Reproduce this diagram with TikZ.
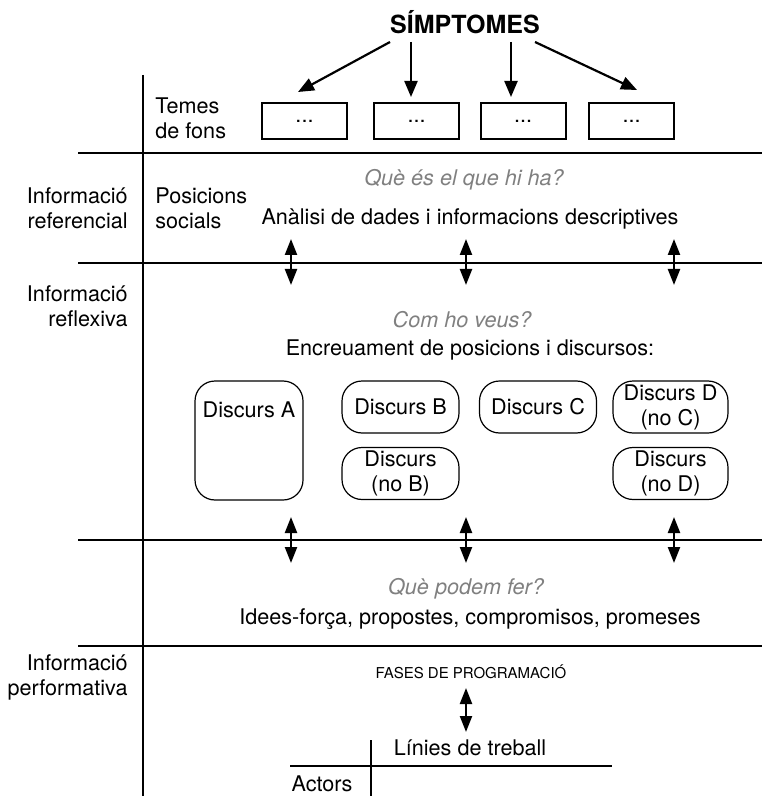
\documentclass[tikz,border=0pt]{standalone}
\usepackage{fontspec}
\setmainfont{TeX Gyre Heros}
\usetikzlibrary{arrows.meta,positioning}

\begin{document}
\begin{tikzpicture}[x=0.5pt,y=-0.5pt,
    every node/.style={font=\fontsize{10.8}{12.5}\selectfont},
    rule/.style={line width=0.7pt},
    sym/.style={-{Triangle[length=8pt,width=6.5pt]},line width=1.1pt},
    dbl/.style={{Triangle[length=8pt,width=6pt]}-{Triangle[length=8pt,width=6pt]},line width=1.1pt},
    tema/.style={draw,line width=1pt,minimum width=42.5pt,minimum height=18pt},
    discurs/.style={draw,rounded corners=10pt,line width=0.6pt,minimum width=58.5pt,minimum height=26pt,align=center,inner sep=1pt},
    pregunta/.style={font=\fontsize{10.8}{12}\selectfont\itshape,text=gray},
    seccio/.style={align=right,anchor=east,inner sep=0pt}]
    \useasboundingbox (0,0) rectangle (762,796);

    % grid of the table
    \draw[rule] (143,75) -- (143,796);
    \draw[rule] (78,153) -- (762,153);
    \draw[rule] (78,263) -- (762,263);
    \draw[rule] (78,540) -- (762,540);
    \draw[rule] (78,646) -- (762,646);

    % symptoms
    \node[font=\fontsize{12.5}{15}\selectfont\bfseries] (simp) at (465,22) {SÍMPTOMES};
    \node[anchor=west,align=left,inner sep=0pt] (temes) at (155,118) {Temes\\de fons};
    \node[tema] (t1) at (304.5,121) {\raisebox{-2pt}{...}};
    \node[tema] (t2) at (416.5,121) {\raisebox{-2pt}{...}};
    \node[tema] (t3) at (523,121) {\raisebox{-2pt}{...}};
    \node[tema] (t4) at (631.5,121) {\raisebox{-2pt}{...}};
    \coordinate (s1) at (390,42); \coordinate (e1) at (298,92);
    \coordinate (s2) at (411,42); \coordinate (e2) at (411,97);
    \coordinate (s3) at (511,42); \coordinate (e3) at (511,97);
    \coordinate (s4) at (535,42); \coordinate (e4) at (637,90);
    \draw[sym] (s1) -- (e1);
    \draw[sym] (s2) -- (e2);
    \draw[sym] (s3) -- (e3);
    \draw[sym] (s4) -- (e4);

    % referencial
    \node[seccio] (ref) at (128,208) {Informació\\referencial};
    \node[anchor=west,align=left,inner sep=0pt] (pos) at (155,208) {Posicions\\socials};
    \node[pregunta] (q1) at (464,180) {Què és el que hi ha?};
    \node (anal) at (470,219) {Anàlisi de dades i informacions descriptives};
    \coordinate (a1) at (291,239); \coordinate (b1) at (291,285);
    \coordinate (a2) at (466,239); \coordinate (b2) at (466,285);
    \coordinate (a3) at (674,239); \coordinate (b3) at (674,285);
    \draw[dbl] (a1) -- (b1);
    \draw[dbl] (a2) -- (b2);
    \draw[dbl] (a3) -- (b3);

    % reflexiva
    \node[seccio] (refl) at (128,306) {Informació\\reflexiva};
    \node[pregunta] (q2) at (462,320) {Com ho veus?};
    \node (encr) at (470,350) {Encreuament de posicions i discursos:};
    \node[discurs,minimum width=54pt,minimum height=59.5pt,
        label={[anchor=north,yshift=-7pt]north:Discurs A}] (dA) at (249,440.5) {};
    \node[discurs] (dB) at (400.5,407) {Discurs B};
    \node[discurs] (dnB) at (400.5,473.5) {Discurs\\(no B)};
    \node[discurs] (dC) at (538,407) {Discurs C};
    \node[discurs,minimum width=57.5pt] (dD) at (670.5,407) {Discurs D\\(no C)};
    \node[discurs,minimum width=57.5pt] (dnD) at (670.5,473.5) {Discurs\\(no D)};
    \coordinate (c1) at (291,517); \coordinate (d1) at (291,563);
    \coordinate (c2) at (466,517); \coordinate (d2) at (466,563);
    \coordinate (c3) at (674,517); \coordinate (d3) at (674,563);
    \draw[dbl] (c1) -- (d1);
    \draw[dbl] (c2) -- (d2);
    \draw[dbl] (c3) -- (d3);

    \node[pregunta] (q3) at (466,589) {Què podem fer?};
    \node (idees) at (470,619) {Idees-força, propostes, compromisos, promeses};

    % performativa
    \node[seccio] (perf) at (128,677) {Informació\\performativa};
    \node[font=\fontsize{7.5}{9}\selectfont] (fases) at (471,672) {FASES DE PROGRAMACIÓ};
    \coordinate (f1) at (466,688); \coordinate (f2) at (466,732);
    \draw[dbl] (f1) -- (f2);
    \draw[rule] (371,740) -- (371,796);
    \draw[rule] (290,766) -- (612,766);
    \node (lin) at (470,748) {Línies de treball};
    \node (act) at (322,784) {Actors};
\end{tikzpicture}
\end{document}
